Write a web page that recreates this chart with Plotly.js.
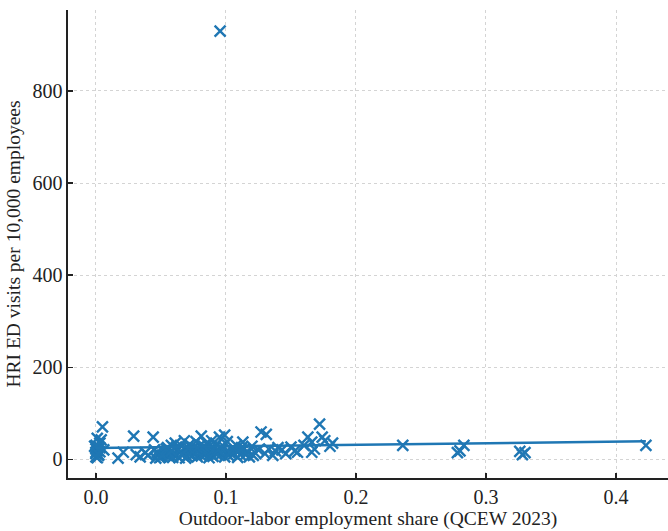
<!DOCTYPE html>
<html>
<head>
<meta charset="utf-8">
<script src="https://cdn.plot.ly/plotly-3.0.1.min.js"></script>
<style>html,body{margin:0;padding:0;background:#fff;}#chart{width:668px;height:531px;}</style>
</head>
<body>
<div id="chart"></div>
<script>
// Outdoor-labor employment share (x) and HRI ED visits per 10,000 employees (y)
const shareX = [
  0.000,0.000,0.001,0.000,-0.001,0.001,0.003,0.005,0.004,0.002,0.000,0.006,0.003,
  0.017,0.021,0.029,0.031,0.034,0.038,0.040,0.044,0.046,0.048,0.050,
  0.045,0.049,0.052,0.053,0.055,0.056,0.057,0.058,0.060,0.061,0.062,0.063,0.064,0.065,0.066,0.067,0.068,0.069,0.070,0.071,0.072,0.073,0.074,0.075,0.076,0.077,0.078,0.079,0.080,0.081,0.082,0.083,0.084,0.085,0.086,0.087,0.088,0.089,0.090,0.091,0.092,0.093,0.095,0.096,0.097,0.098,0.099,0.100,0.101,0.102,0.104,0.106,0.108,
  0.047,0.051,0.054,0.059,0.062,0.066,0.069,0.072,0.075,0.078,0.081,0.084,0.087,0.090,0.093,0.096,0.099,0.103,0.107,0.109,0.111,0.114,0.117,0.121,0.058,0.071,0.083,0.094,0.001,0.002,0.000,0.003,
  0.110,0.112,0.113,0.115,0.118,0.120,0.122,0.125,0.127,0.130,0.131,0.133,0.136,0.138,0.140,0.143,0.146,0.150,0.153,0.155,0.160,0.163,0.166,0.166,0.168,0.172,0.174,0.176,0.180,0.182,
  0.236,0.278,0.280,0.283,0.326,0.328,0.330,0.423,
  0.0955
];
const visitsY = [
  5,12,18,22,28,45,35,70,42,8,15,20,25,
  2,15,50,10,5,14,8,48,2,12,5,
  20,3,18,10,25,6,14,30,12,35,8,20,3,16,28,10,40,22,6,15,32,18,8,25,12,38,5,20,30,50,14,22,9,35,18,28,12,40,6,24,16,32,48,10,20,28,52,15,38,8,22,12,30,
  15,8,22,4,26,12,2,10,18,24,7,16,3,20,10,26,5,14,20,4,10,22,15,8,18,24,28,20,3,10,30,16,
  18,25,37,10,5,28,15,20,59,12,54,22,8,18,25,20,12,26,18,15,30,48,37,15,22,76,48,40,28,35,
  30,14,18,30,17,10,14,30,
  930
];
// Fitted trend line
const fitX = [0.0, 0.423];
const fitY = [24, 39];

const blue = '#1f77b4';
const data = [
  {x: shareX, y: visitsY, type: 'scatter', mode: 'markers',
   marker: {symbol: 'x-thin-open', size: 11, color: blue, line: {color: blue, width: 2.4}},
   showlegend: false, hoverinfo: 'x+y'},
  {x: fitX, y: fitY, type: 'scatter', mode: 'lines',
   line: {color: blue, width: 2.5}, showlegend: false}
];
const gridStyle = {showgrid: true, gridcolor: '#d4d4d4', griddash: '3px,3px', gridwidth: 1};
const layout = {
  width: 668, height: 531,
  margin: {l: 68, r: 0, t: 10, b: 53},
  paper_bgcolor: '#fff', plot_bgcolor: '#fff',
  font: {family: '"Liberation Serif", "DejaVu Serif", serif', size: 20, color: '#222'},
  xaxis: Object.assign({
    range: [-0.0215, 0.44], tickvals: [0, 0.1, 0.2, 0.3, 0.4], ticktext: ['0.0','0.1','0.2','0.3','0.4'],
    ticks: 'inside', ticklen: 5, tickwidth: 1.2, tickcolor: '#222',
    showline: true, linecolor: '#222', linewidth: 1.6, mirror: false, zeroline: false,
    title: {text: 'Outdoor-labor employment share (QCEW 2023)', font: {size: 19.5}, standoff: 2}
  }, gridStyle),
  yaxis: Object.assign({
    range: [-41, 976], tickvals: [0, 200, 400, 600, 800],
    ticks: 'inside', ticklen: 5, tickwidth: 1.2, tickcolor: '#222',
    showline: true, linecolor: '#222', linewidth: 1.6, mirror: false, zeroline: false,
    title: {text: 'HRI ED visits per 10,000 employees', font: {size: 19.5}, standoff: 6}
  }, gridStyle)
};
Plotly.newPlot('chart', data, layout, {displayModeBar: false, staticPlot: true});
</script>
</body>
</html>
